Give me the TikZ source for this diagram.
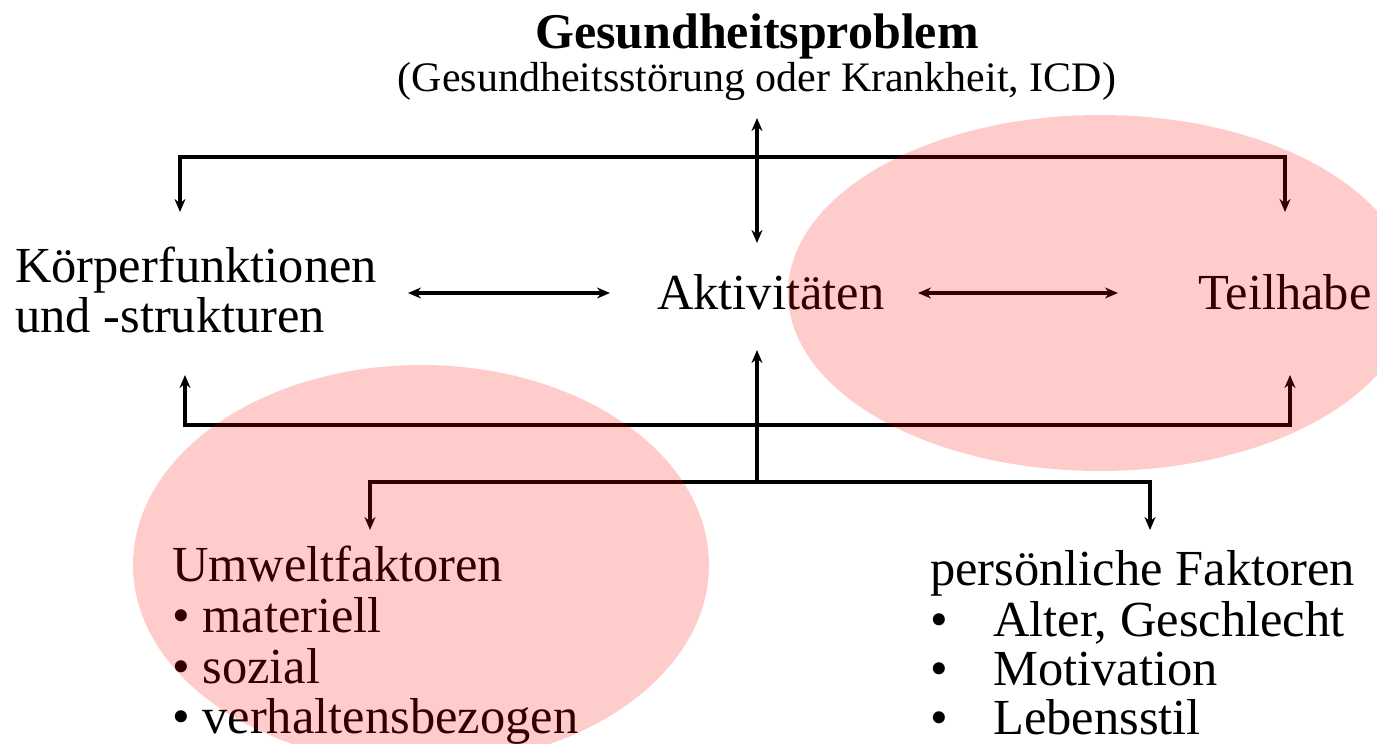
\documentclass[tikz,border=0pt]{standalone}
\usepackage{fontspec}
\setmainfont{Liberation Serif}
\usetikzlibrary{arrows.meta,calc}

\tikzset{
  label/.style={inner sep=0pt, anchor=base west, font=\fontsize{50.5}{51}\selectfont},
  link/.style={line width=3.5pt, {Stealth[length=13pt,width=11pt]}-{Stealth[length=13pt,width=11pt]}},
  onelink/.style={line width=3.5pt, -{Stealth[length=13pt,width=11pt]}},
  blob/.style={fill=red, fill opacity=0.2, draw=none},
}
\newcommand{\bul}{\makebox[63pt][l]{\textbullet}}

\begin{document}
\begin{tikzpicture}[x=1pt,y=-1pt]
  \useasboundingbox (0,0) rectangle (1377,744);
  \clip (0,0) rectangle (1377,744);

  % headline
  \node[inner sep=0pt, anchor=base, font=\fontsize{50}{51}\bfseries\selectfont] (gp) at (757,48) {Gesundheitsproblem};
  \node[inner sep=0pt, anchor=base, font=\fontsize{42}{44}\selectfont] (icd) at (757,91) {(Gesundheitsstörung oder Krankheit, ICD)};

  % middle row
  \node[label] (kf) at (15,282) {Körperfunktionen};
  \node[label] (ks) at (15,332) {und -strukturen};
  \node[label] (akt) at (657,309) {Aktivitäten};
  \node[label] (th) at (1198,309) {Teilhabe};

  % context factors
  \node[label] (uw) at (172,581) {Umweltfaktoren};
  \node[label] (uw1) at (172,632) {\textbullet{} materiell};
  \node[label] (uw2) at (172,683) {\textbullet{} sozial};
  \node[label] (uw3) at (172,733) {\textbullet{} verhaltensbezogen};

  \node[label] (pf) at (930,585) {persönliche Faktoren};
  \node[label] (pf1) at (930,636) {\bul Alter, Geschlecht};
  \node[label] (pf2) at (930,685) {\bul Motivation};
  \node[label] (pf3) at (930,734) {\bul Lebensstil};

  % connector ends
  \coordinate (gpIn) at (757,118);
  \coordinate (aktTop) at (757,243);
  \coordinate (topBar) at (757,157);
  \coordinate (kfIn) at (180,212);
  \coordinate (thIn) at (1285,212);
  \coordinate (kfBot) at (185,375);
  \coordinate (thBot) at (1290,375);
  \coordinate (lowBar) at (757,425);
  \coordinate (aktBot) at (757,350);
  \coordinate (ctxBar) at (757,482);
  \coordinate (uwIn) at (370,530);
  \coordinate (pfIn) at (1150,530);
  \coordinate (kfR) at (408,293);
  \coordinate (aktL) at (610,293);
  \coordinate (aktR) at (918,293);
  \coordinate (thL) at (1118,293);

  % connectors
  \draw[link] (gpIn) -- (aktTop);
  \draw[link] (kfIn) -- (kfIn |- topBar) -- (thIn |- topBar) -- (thIn);
  \draw[link] (kfBot) -- (kfBot |- lowBar) -- (thBot |- lowBar) -- (thBot);
  \draw[link] (kfR) -- (aktL);
  \draw[link] (aktR) -- (thL);
  \draw[onelink] (ctxBar) -- (aktBot);
  \draw[link] (uwIn) -- (uwIn |- ctxBar) -- (pfIn |- ctxBar) -- (pfIn);

  % shaded groups
  \fill[blob] (1100,293) ellipse [x radius=312, y radius=178];
  \fill[blob] (421,565) ellipse [x radius=288, y radius=200];
\end{tikzpicture}
\end{document}
